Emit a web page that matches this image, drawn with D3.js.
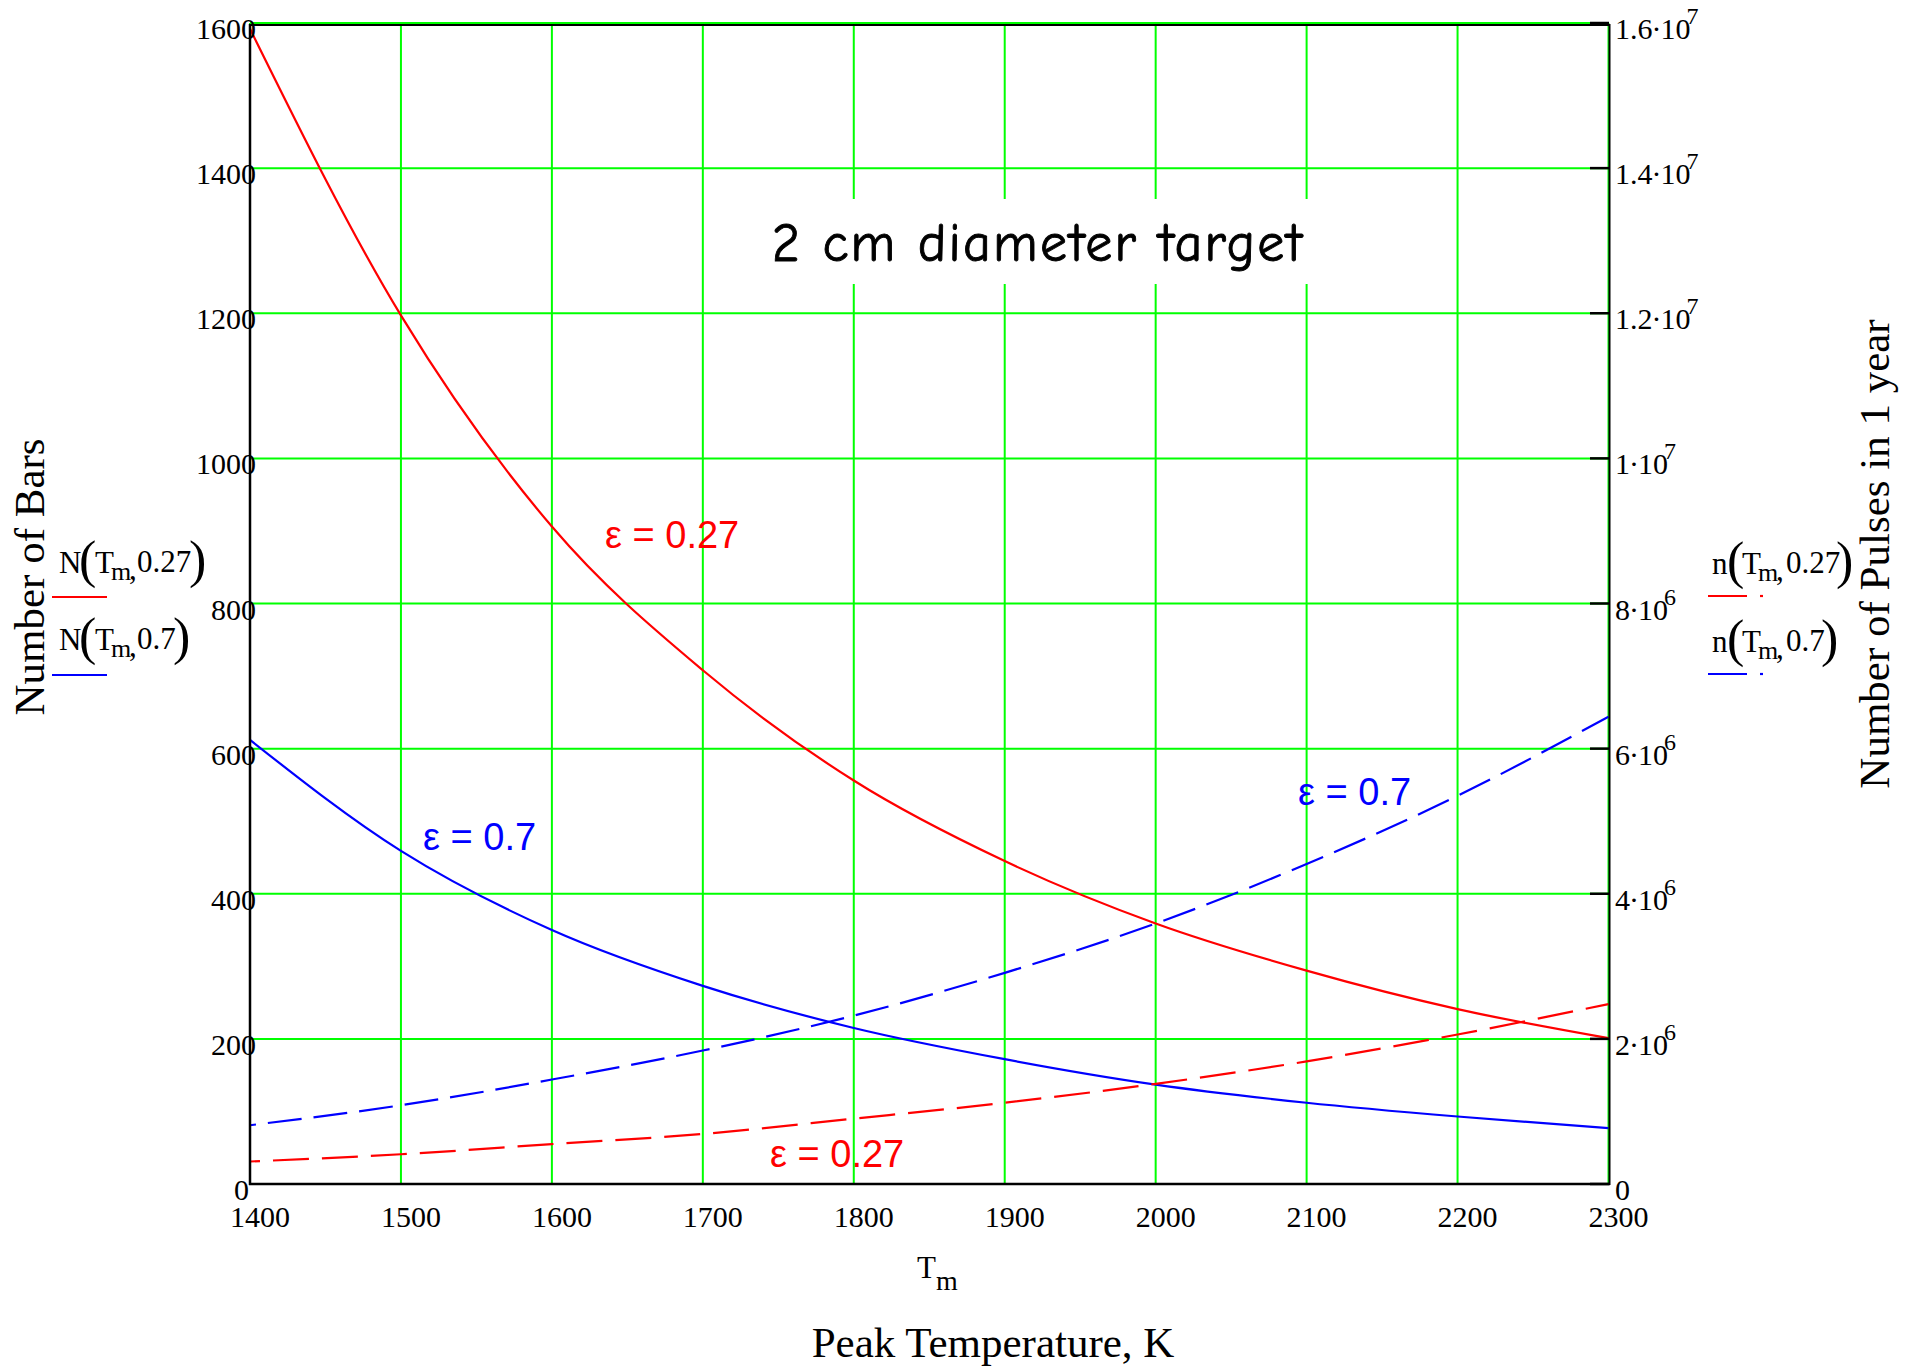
<!DOCTYPE html>
<html>
<head>
<meta charset="utf-8">
<script src="https://cdn.jsdelivr.net/npm/d3@7"></script>
<style>
  html, body { margin: 0; padding: 0; background: #fff; }
  svg { display: block; }
</style>
</head>
<body>
<script>
// Peak temperature samples, K
const temperatures = [1400, 1500, 1600, 1700, 1800, 1900, 2000, 2100, 2200, 2300];
// Number of bars N(Tm, eps) - left axis
const barsEps027 = [1592, 1197, 906, 708, 556, 445, 359, 294, 241, 201];
const barsEps07  = [612, 459, 350, 273, 215, 172, 137, 112, 93, 77];
// Number of pulses in 1 year n(Tm, eps) - right axis
const pulsesEps027 = [3.1e5, 4.1e5, 5.5e5, 6.9e5, 9.0e5, 1.12e6, 1.38e6, 1.69e6, 2.06e6, 2.48e6];
const pulsesEps07  = [8.1e5, 1.085e6, 1.44e6, 1.84e6, 2.32e6, 2.91e6, 3.59e6, 4.41e6, 5.35e6, 6.44e6];

// Tick values and labels
const xTicks = [1400, 1500, 1600, 1700, 1800, 1900, 2000, 2100, 2200, 2300];
const leftTicks = [0, 200, 400, 600, 800, 1000, 1200, 1400, 1600];
const rightTicks = [0, 2e6, 4e6, 6e6, 8e6, 1e7, 1.2e7, 1.4e7, 1.6e7];
const rightTickMantissa = ["0", "2", "4", "6", "8", "1", "1.2", "1.4", "1.6"];
const rightTickExponent = ["", "6", "6", "6", "6", "7", "7", "7", "7"];

const W = 1919, H = 1367;
const RED = "#ff0000", BLUE = "#0000ff", GREEN = "#00ff00";
const SERIF = "'Liberation Serif', 'Times New Roman', serif";
const SANS = "'Liberation Sans', Arial, sans-serif";

const svg = d3.select("body").append("svg")
  .attr("width", W).attr("height", H)
  .attr("viewBox", `0 0 ${W} ${H}`);

const x = d3.scaleLinear().domain([1400, 2300]).range([250, 1608.5]);
const yL = d3.scaleLinear().domain([0, 1600]).range([1184, 23]);
const yR = d3.scaleLinear().domain([0, 1.6e7]).range([1184, 23]);

// Grid
const grid = svg.append("g");
grid.selectAll("line.v").data(xTicks).join("line")
  .attr("x1", d => x(d)).attr("x2", d => x(d))
  .attr("y1", yL(0)).attr("y2", yL(1600))
  .attr("stroke", GREEN).attr("stroke-width", 2);
grid.selectAll("line.h").data(leftTicks).join("line")
  .attr("x1", x(1400)).attr("x2", x(2300))
  .attr("y1", d => yL(d)).attr("y2", d => yL(d))
  .attr("stroke", GREEN).attr("stroke-width", 2);

// Title with its white backing box
svg.append("rect")
  .attr("x", 762).attr("y", 199).attr("width", 556).attr("height", 85)
  .attr("fill", "#fff");
svg.append("text")
  .attr("x", 1038).attr("y", 261)
  .attr("text-anchor", "middle")
  .attr("font-family", "'Comic Sans MS', 'Comic Neue', 'Noto Sans', sans-serif")
  .attr("font-size", 54)
  .attr("letter-spacing", 2.2)
  .attr("fill", "#000")
  .attr("stroke", "#000").attr("stroke-width", 0.9)
  .text("2 cm diameter target");

// Curves
const lineL = d3.line().x((d, i) => x(temperatures[i])).y(d => yL(d)).curve(d3.curveMonotoneX);
const lineR = d3.line().x((d, i) => x(temperatures[i])).y(d => yR(d)).curve(d3.curveMonotoneX);

const curves = svg.append("g").attr("fill", "none").attr("stroke-width", 2.2);
curves.append("path").attr("d", lineL(barsEps027)).attr("stroke", RED);
curves.append("path").attr("d", lineL(barsEps07)).attr("stroke", BLUE);
curves.append("path").attr("d", lineR(pulsesEps027)).attr("stroke", RED)
  .attr("stroke-dasharray", "36,13").attr("stroke-dashoffset", 26);
curves.append("path").attr("d", lineR(pulsesEps07)).attr("stroke", BLUE)
  .attr("stroke-dasharray", "34,12").attr("stroke-dashoffset", 28);

// Frame
const frame = svg.append("g").attr("stroke", "#000").attr("fill", "none");
frame.append("line").attr("x1", x(1400)).attr("x2", x(1400)).attr("y1", 24).attr("y2", 1185).attr("stroke-width", 2.5);
frame.append("line").attr("x1", 249).attr("x2", 1610).attr("y1", 1184).attr("y2", 1184).attr("stroke-width", 2.5);
frame.append("line").attr("x1", 249).attr("x2", 1610).attr("y1", 25).attr("y2", 25).attr("stroke-width", 2);
frame.append("line").attr("x1", 1609.5).attr("x2", 1609.5).attr("y1", 24).attr("y2", 1185).attr("stroke-width", 2);

// Right axis ticks (inward)
frame.selectAll("line.rt").data(rightTicks).join("line")
  .attr("x1", 1590).attr("x2", 1609)
  .attr("y1", d => yR(d)).attr("y2", d => yR(d))
  .attr("stroke-width", 2.5);

// Left tick labels
svg.append("g").selectAll("text").data(leftTicks).join("text")
  .attr("x", d => d === 0 ? 249 : 256)
  .attr("y", d => yL(d) + 16)
  .attr("text-anchor", "end")
  .attr("font-family", SERIF).attr("font-size", 30)
  .text(d => d);

// Bottom tick labels
svg.append("g").selectAll("text").data(xTicks).join("text")
  .attr("x", d => x(d) + 10)
  .attr("y", 1227)
  .attr("text-anchor", "middle")
  .attr("font-family", SERIF).attr("font-size", 30)
  .text(d => d);

// Right tick labels: mantissa·10 with superscript exponent
const rt = svg.append("g").selectAll("text").data(rightTicks).join("text")
  .attr("x", 1615)
  .attr("y", d => yR(d) + 16)
  .attr("font-family", SERIF).attr("font-size", 30);
rt.each(function (d, i) {
  const t = d3.select(this);
  if (d === 0) { t.text("0"); return; }
  t.append("tspan").text(rightTickMantissa[i]);
  t.append("tspan").attr("dx", -1).text("\u00B7");
  t.append("tspan").attr("dx", -1).text("10");
  t.append("tspan").attr("dx", -4).attr("dy", -15).attr("font-size", 24).text(rightTickExponent[i]);
});

// Axis titles
svg.append("text")
  .attr("transform", "translate(44,577) rotate(-90)")
  .attr("text-anchor", "middle")
  .attr("font-family", SERIF).attr("font-size", 43)
  .text("Number of Bars");
svg.append("text")
  .attr("transform", "translate(1889,554) rotate(-90)")
  .attr("text-anchor", "middle")
  .attr("font-family", SERIF).attr("font-size", 43)
  .text("Number of Pulses in 1 year");
svg.append("text")
  .attr("x", 993).attr("y", 1357)
  .attr("text-anchor", "middle")
  .attr("font-family", SERIF).attr("font-size", 43)
  .text("Peak Temperature, K");
const tm = svg.append("text")
  .attr("x", 917).attr("y", 1278)
  .attr("font-family", SERIF).attr("font-size", 31);
tm.append("tspan").text("T");
tm.append("tspan").attr("dy", 12).attr("font-size", 28).text("m");

// Curve annotations
const notes = [
  { text: "\u03B5 = 0.27", x: 605, y: 548, color: RED },
  { text: "\u03B5 = 0.27", x: 770, y: 1167, color: RED },
  { text: "\u03B5 = 0.7", x: 423, y: 850, color: BLUE },
  { text: "\u03B5 = 0.7", x: 1298, y: 805, color: BLUE }
];
svg.append("g").selectAll("text").data(notes).join("text")
  .attr("x", d => d.x).attr("y", d => d.y)
  .attr("font-family", SANS).attr("font-size", 38)
  .attr("fill", d => d.color)
  .text(d => d.text);

// Legend entries: function-style labels with a line sample beneath
function legendLabel(fn, eps, pos) {
  const t = svg.append("text")
    .attr("y", pos.y)
    .attr("font-family", SERIF).attr("font-size", 31).attr("fill", "#000");
  t.append("tspan").attr("x", pos.fn).text(fn);
  t.append("tspan").attr("x", pos.open).attr("dy", 4).attr("font-size", 52).text("(");
  t.append("tspan").attr("x", pos.T).attr("dy", -4).text("T");
  t.append("tspan").attr("x", pos.m).attr("dy", 7).attr("font-size", 26).text("m");
  t.append("tspan").attr("x", pos.m + 18).attr("dy", -1).text(",");
  t.append("tspan").attr("x", pos.num).attr("dy", -7).text(eps);
  t.append("tspan").attr("x", pos.close).attr("dy", 5).attr("font-size", 52).text(")");
}
legendLabel("N", "0.27", { y: 573, fn: 59, open: 79, T: 95, m: 111, num: 137, close: 189 });
legendLabel("N", "0.7",  { y: 650, fn: 59, open: 79, T: 95, m: 111, num: 137, close: 173 });
legendLabel("n", "0.27", { y: 574, fn: 1712, open: 1727, T: 1742, m: 1758, num: 1786, close: 1836 });
legendLabel("n", "0.7",  { y: 652, fn: 1712, open: 1727, T: 1742, m: 1758, num: 1786, close: 1821 });

const samples = svg.append("g").attr("stroke-width", 2.2);
samples.append("line").attr("x1", 52).attr("x2", 107).attr("y1", 597).attr("y2", 597).attr("stroke", RED);
samples.append("line").attr("x1", 52).attr("x2", 107).attr("y1", 675).attr("y2", 675).attr("stroke", BLUE);
samples.append("line").attr("x1", 1708).attr("x2", 1747).attr("y1", 596).attr("y2", 596).attr("stroke", RED);
samples.append("line").attr("x1", 1760).attr("x2", 1763).attr("y1", 596).attr("y2", 596).attr("stroke", RED);
samples.append("line").attr("x1", 1708).attr("x2", 1747).attr("y1", 674).attr("y2", 674).attr("stroke", BLUE);
samples.append("line").attr("x1", 1760).attr("x2", 1763).attr("y1", 674).attr("y2", 674).attr("stroke", BLUE);
</script>
</body>
</html>
